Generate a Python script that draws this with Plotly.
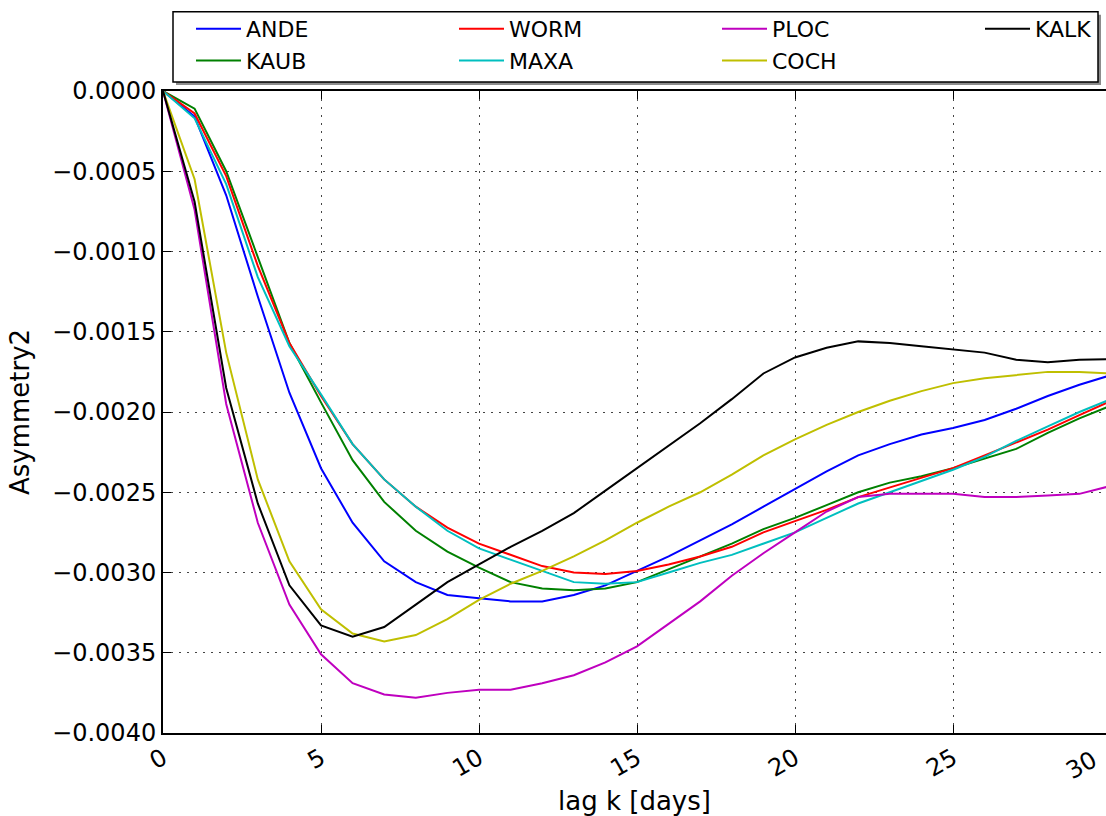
import plotly.graph_objects as go

lag_days = list(range(31))
series_names = ["ANDE", "KAUB", "WORM", "MAXA", "PLOC", "COCH", "KALK"]
series_colors = ["#0000ff", "#008000", "#ff0000", "#00bfbf", "#bf00bf", "#bfbf00", "#000000"]

ande = [0, -1.6e-4, -6.5e-4, -12.8e-4, -18.8e-4, -23.5e-4, -26.9e-4, -29.3e-4, -30.6e-4, -31.4e-4,
        -31.6e-4, -31.8e-4, -31.8e-4, -31.4e-4, -30.8e-4, -29.9e-4, -29.0e-4, -28.0e-4, -27.0e-4, -25.9e-4,
        -24.8e-4, -23.7e-4, -22.7e-4, -22.0e-4, -21.4e-4, -21.0e-4, -20.5e-4, -19.8e-4, -19.0e-4, -18.3e-4,
        -17.7e-4]
kaub = [0, -1.1e-4, -5.0e-4, -10.3e-4, -15.7e-4, -19.4e-4, -23.0e-4, -25.6e-4, -27.4e-4, -28.7e-4,
        -29.7e-4, -30.6e-4, -31.0e-4, -31.1e-4, -31.0e-4, -30.6e-4, -29.8e-4, -29.0e-4, -28.2e-4, -27.3e-4,
        -26.6e-4, -25.8e-4, -25.0e-4, -24.4e-4, -24.0e-4, -23.5e-4, -22.9e-4, -22.3e-4, -21.3e-4, -20.4e-4,
        -19.6e-4]
worm = [0, -1.4e-4, -5.3e-4, -10.9e-4, -15.7e-4, -19.0e-4, -22.0e-4, -24.2e-4, -25.9e-4, -27.2e-4,
        -28.2e-4, -28.9e-4, -29.6e-4, -30.0e-4, -30.1e-4, -29.9e-4, -29.5e-4, -29.0e-4, -28.4e-4, -27.5e-4,
        -26.8e-4, -26.1e-4, -25.3e-4, -24.7e-4, -24.1e-4, -23.5e-4, -22.7e-4, -21.9e-4, -21.1e-4, -20.2e-4,
        -19.3e-4]
maxa = [0, -1.7e-4, -5.8e-4, -11.6e-4, -15.9e-4, -18.9e-4, -22.0e-4, -24.2e-4, -25.9e-4, -27.4e-4,
        -28.5e-4, -29.2e-4, -29.9e-4, -30.6e-4, -30.7e-4, -30.6e-4, -30.0e-4, -29.4e-4, -28.9e-4, -28.2e-4,
        -27.5e-4, -26.6e-4, -25.7e-4, -25.0e-4, -24.3e-4, -23.6e-4, -22.8e-4, -21.8e-4, -20.9e-4, -20.0e-4,
        -19.2e-4]
ploc = [0, -7.4e-4, -19.5e-4, -26.9e-4, -32.0e-4, -35.1e-4, -36.9e-4, -37.6e-4, -37.8e-4, -37.5e-4,
        -37.3e-4, -37.3e-4, -36.9e-4, -36.4e-4, -35.6e-4, -34.6e-4, -33.2e-4, -31.8e-4, -30.2e-4, -28.8e-4,
        -27.5e-4, -26.2e-4, -25.3e-4, -25.1e-4, -25.1e-4, -25.1e-4, -25.3e-4, -25.3e-4, -25.2e-4, -25.1e-4,
        -24.6e-4]
coch = [0, -5.5e-4, -16.3e-4, -24.2e-4, -29.3e-4, -32.3e-4, -33.8e-4, -34.3e-4, -33.9e-4, -32.9e-4,
        -31.7e-4, -30.7e-4, -29.9e-4, -29.0e-4, -28.0e-4, -26.9e-4, -25.9e-4, -25.0e-4, -23.9e-4, -22.7e-4,
        -21.7e-4, -20.8e-4, -20.0e-4, -19.3e-4, -18.7e-4, -18.2e-4, -17.9e-4, -17.7e-4, -17.5e-4, -17.5e-4,
        -17.6e-4]
kalk = [0, -6.9e-4, -18.5e-4, -25.7e-4, -30.8e-4, -33.3e-4, -34.0e-4, -33.4e-4, -32.0e-4, -30.6e-4,
        -29.5e-4, -28.4e-4, -27.4e-4, -26.3e-4, -24.9e-4, -23.5e-4, -22.1e-4, -20.7e-4, -19.2e-4, -17.6e-4,
        -16.6e-4, -16.0e-4, -15.6e-4, -15.7e-4, -15.9e-4, -16.1e-4, -16.3e-4, -16.75e-4, -16.9e-4, -16.75e-4,
        -16.7e-4]

series_values = [ande, kaub, worm, maxa, ploc, coch, kalk]
legend_columns = [1, 1, 2, 2, 3, 3, 4]

x_ticks = [0, 5, 10, 15, 20, 25, 30]
y_ticks = [0.0, -0.0005, -0.0010, -0.0015, -0.0020, -0.0025, -0.0030, -0.0035, -0.0040]

W, H = 1106, 816
ML, MT, MB = 163, 91, 83
PW, PH = W - ML, H - MT - MB
PX_PER_DAY = 31.6
XMAX = PW / PX_PER_DAY

FONT = "DejaVu Sans"
GRID_DASH = "2px,6px"

fig = go.Figure()
for name, color, vals, col in zip(series_names, series_colors, series_values, legend_columns):
    fig.add_trace(go.Scatter(
        x=lag_days, y=vals, mode="lines", name=name,
        line=dict(color=color, width=2),
        legendgroup="col%d" % col,
        legendwidth=(62 if col == 4 else 185),
    ))

def px2paper_x(px):
    return (px - ML) / PW

def py2paper_y(py):
    return (MT + PH - py) / PH

# legend frame with matplotlib-style shadow
fig.add_shape(type="rect", xref="paper", yref="paper",
              x0=px2paper_x(176), x1=px2paper_x(1101), y0=py2paper_y(85), y1=py2paper_y(14.7),
              line=dict(width=0), fillcolor="rgba(0,0,0,0.45)", layer="above")
fig.add_shape(type="rect", xref="paper", yref="paper",
              x0=px2paper_x(173), x1=px2paper_x(1098), y0=py2paper_y(82), y1=py2paper_y(11.7),
              line=dict(width=1.5, color="black"), fillcolor="white", layer="above")

fig.add_annotation(text="30", xref="paper", yref="paper", x=30 / XMAX, y=0,
                   xanchor="right", yanchor="top", textangle=-30, showarrow=False,
                   xshift=-6, yshift=-9, font=dict(family=FONT, size=24, color="black"))

fig.update_layout(
    width=W, height=H,
    margin=dict(l=ML, r=0, t=MT, b=MB, autoexpand=False, pad=0),
    paper_bgcolor="white", plot_bgcolor="white",
    font=dict(family=FONT, size=24, color="black"),
    showlegend=True,
    legend=dict(
        orientation="h", traceorder="grouped", tracegroupgap=0,
        x=px2paper_x(173), xanchor="left", y=py2paper_y(8), yanchor="top",
        bgcolor="rgba(0,0,0,0)", borderwidth=0,
        font=dict(family=FONT, size=22, color="black"),
        indentation=18, itemwidth=45,
    ),
    xaxis=dict(
        range=[0, XMAX], tickmode="array", tickvals=x_ticks, ticktext=[str(v) for v in x_ticks],
        tickangle=-30, ticks="inside", ticklen=8, tickwidth=1, tickcolor="black",
        showline=True, linecolor="black", linewidth=2, mirror="ticks",
        showgrid=True, gridcolor="#444444", griddash=GRID_DASH, gridwidth=1,
        zeroline=False, tickfont=dict(size=24),
        title=dict(text="lag k [days]", font=dict(size=26)),
    ),
    yaxis=dict(
        range=[-0.004, 0], tickmode="array", tickvals=y_ticks,
        ticktext=[("\u2212%.4f" % abs(v)) if v < 0 else "%.4f" % v for v in y_ticks],
        ticks="inside", ticklen=8, tickwidth=1, tickcolor="black",
        showline=True, linecolor="black", linewidth=2, mirror=False,
        showgrid=True, gridcolor="#444444", griddash=GRID_DASH, gridwidth=1,
        zeroline=False, tickfont=dict(size=24),
        title=dict(text="Asymmetry2", font=dict(size=26)),
    ),
)

fig.write_html("out.html")
